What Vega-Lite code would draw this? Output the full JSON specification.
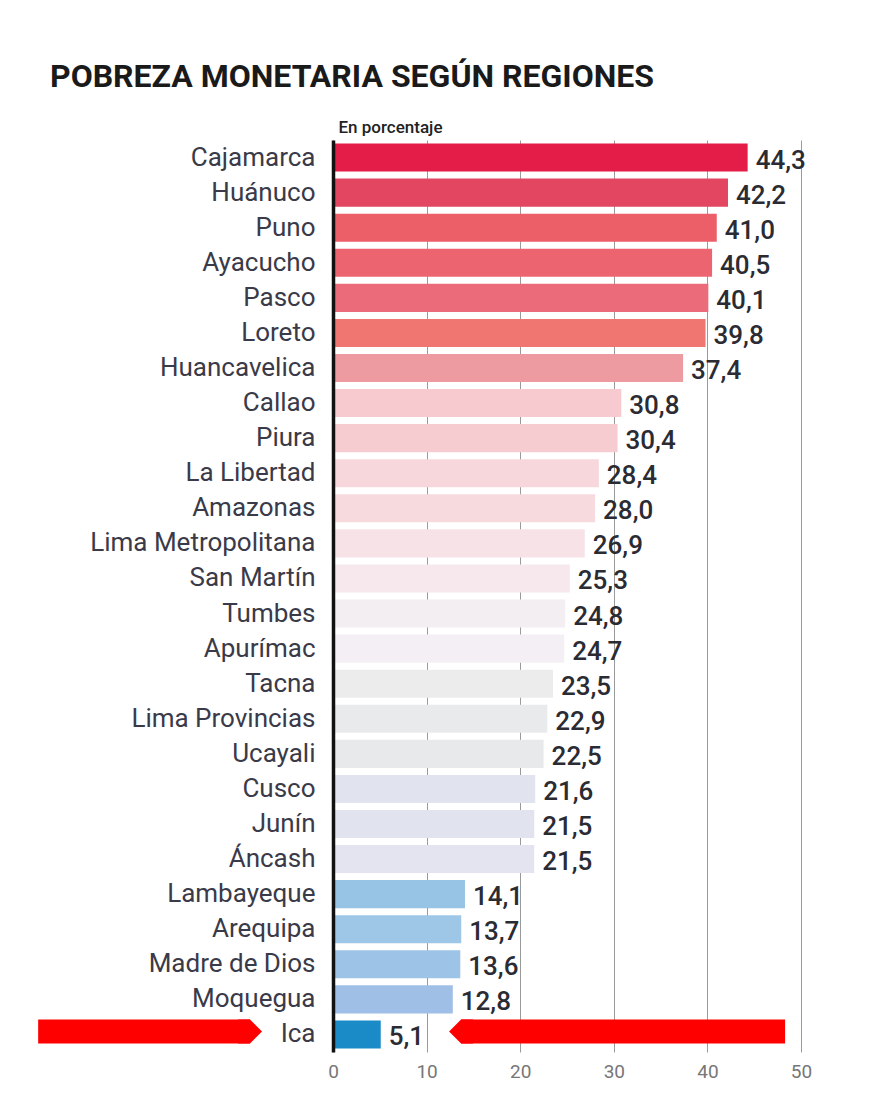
{
  "$schema": "https://vega.github.io/schema/vega-lite/v6.json",
  "width": 468,
  "height": 912,
  "autosize": "none",
  "padding": {"left": 333, "top": 140, "right": 89, "bottom": 43},
  "background": "white",
  "config": {
    "locale": {"number": {"decimal": ",", "thousands": ".", "grouping": [3], "currency": ["", ""]}},
    "view": {"stroke": null},
    "font": "Roboto"
  },
  "title": {
    "text": "POBREZA MONETARIA SEGÚN REGIONES",
    "anchor": "start",
    "frame": "group",
    "dx": -283,
    "font": "Roboto",
    "fontWeight": "bold",
    "fontSize": 32,
    "color": "#1a1a1a",
    "offset": 24
  },
  "datasets": {
    "pobreza": [
      {"region": "Cajamarca", "value": 44.3},
      {"region": "Huánuco", "value": 42.2},
      {"region": "Puno", "value": 41.0},
      {"region": "Ayacucho", "value": 40.5},
      {"region": "Pasco", "value": 40.1},
      {"region": "Loreto", "value": 39.8},
      {"region": "Huancavelica", "value": 37.4},
      {"region": "Callao", "value": 30.8},
      {"region": "Piura", "value": 30.4},
      {"region": "La Libertad", "value": 28.4},
      {"region": "Amazonas", "value": 28.0},
      {"region": "Lima Metropolitana", "value": 26.9},
      {"region": "San Martín", "value": 25.3},
      {"region": "Tumbes", "value": 24.8},
      {"region": "Apurímac", "value": 24.7},
      {"region": "Tacna", "value": 23.5},
      {"region": "Lima Provincias", "value": 22.9},
      {"region": "Ucayali", "value": 22.5},
      {"region": "Cusco", "value": 21.6},
      {"region": "Junín", "value": 21.5},
      {"region": "Áncash", "value": 21.5},
      {"region": "Lambayeque", "value": 14.1},
      {"region": "Arequipa", "value": 13.7},
      {"region": "Madre de Dios", "value": 13.6},
      {"region": "Moquegua", "value": 12.8},
      {"region": "Ica", "value": 5.1}
    ],
    "flechas": [
      {"region": "Ica", "start": -31.5, "end": -8.87, "tip": -8.87, "dir": "right"},
      {"region": "Ica", "start": 13.68, "end": 48.3, "tip": 13.68, "dir": "left"}
    ]
  },
  "layer": [
    {
      "data": {"name": "pobreza"},
      "mark": {"type": "bar"},
      "encoding": {
        "y": {
          "field": "region",
          "type": "nominal",
          "sort": null,
          "scale": {"paddingInner": 0.2, "paddingOuter": 0.1},
          "axis": {
            "title": "En porcentaje",
            "titleAngle": 0,
            "titleAlign": "left",
            "titleBaseline": "bottom",
            "titleX": 5,
            "titleY": -4,
            "titleFont": "Roboto",
            "titleFontSize": 17,
            "titleFontWeight": 500,
            "titleColor": "#222",
            "labelFont": "Roboto",
            "labelFontSize": 26,
            "labelColor": "#3a3a48",
            "labelPadding": 18,
            "labelLimit": 320,
            "ticks": false,
            "domain": true,
            "domainColor": "#111",
            "domainWidth": 3.5,
            "grid": false,
            "zindex": 1
          }
        },
        "x": {
          "field": "value",
          "type": "quantitative",
          "scale": {"domain": [0, 50], "nice": false},
          "axis": {
            "title": null,
            "values": [0, 10, 20, 30, 40, 50],
            "grid": true,
            "gridColor": "#9a9a9a",
            "gridWidth": 1,
            "domain": false,
            "ticks": false,
            "labelFlush": false,
            "labelFont": "Roboto",
            "labelFontSize": 19,
            "labelColor": "#777",
            "labelPadding": 10
          }
        },
        "color": {
          "field": "region",
          "type": "nominal",
          "legend": null,
          "scale": {
            "domain": ["Cajamarca", "Huánuco", "Puno", "Ayacucho", "Pasco", "Loreto", "Huancavelica", "Callao", "Piura", "La Libertad", "Amazonas", "Lima Metropolitana", "San Martín", "Tumbes", "Apurímac", "Tacna", "Lima Provincias", "Ucayali", "Cusco", "Junín", "Áncash", "Lambayeque", "Arequipa", "Madre de Dios", "Moquegua", "Ica"],
            "range": ["#e31d48", "#e24660", "#ec5e68", "#ec6470", "#ec6b7b", "#ef7671", "#ee9aa1", "#f6cacf", "#f6ccd1", "#f7d7db", "#f6dade", "#f7e3e7", "#f6e8ec", "#f3eef1", "#f4eff4", "#ececec", "#e9eaeb", "#e8e9eb", "#e1e3ef", "#e1e3ef", "#e3e4ef", "#97c3e4", "#9ec6e7", "#9dc3e7", "#a0bfe7", "#1a8bc7"]
          }
        }
      }
    },
    {
      "data": {"name": "pobreza"},
      "mark": {"type": "text", "align": "left", "baseline": "middle", "dx": 8, "dy": 3, "fontSize": 26, "fontWeight": 500, "color": "#2b2b33", "font": "Roboto"},
      "encoding": {
        "y": {"field": "region", "type": "nominal", "sort": null},
        "x": {"field": "value", "type": "quantitative"},
        "text": {"field": "value", "type": "quantitative", "format": ".1f"}
      }
    },
    {
      "data": {"name": "flechas"},
      "mark": {"type": "bar", "color": "#ff0000", "height": 24, "yOffset": -3},
      "encoding": {
        "y": {"field": "region", "type": "nominal", "sort": null},
        "x": {"field": "start", "type": "quantitative"},
        "x2": {"field": "end"}
      }
    },
    {
      "data": {"name": "flechas"},
      "mark": {"type": "point", "filled": true, "opacity": 1, "color": "#ff0000", "size": 576, "strokeWidth": 0, "yOffset": -3},
      "encoding": {
        "y": {"field": "region", "type": "nominal", "sort": null},
        "x": {"field": "tip", "type": "quantitative"},
        "shape": {
          "field": "dir",
          "type": "nominal",
          "legend": null,
          "scale": {
            "domain": ["right", "left"],
            "range": ["M -1 -1 L 0 -1 L 1 0 L 0 1 L -1 1 Z", "M 1 -1 L 0 -1 L -1 0 L 0 1 L 1 1 Z"]
          }
        }
      }
    }
  ]
}
